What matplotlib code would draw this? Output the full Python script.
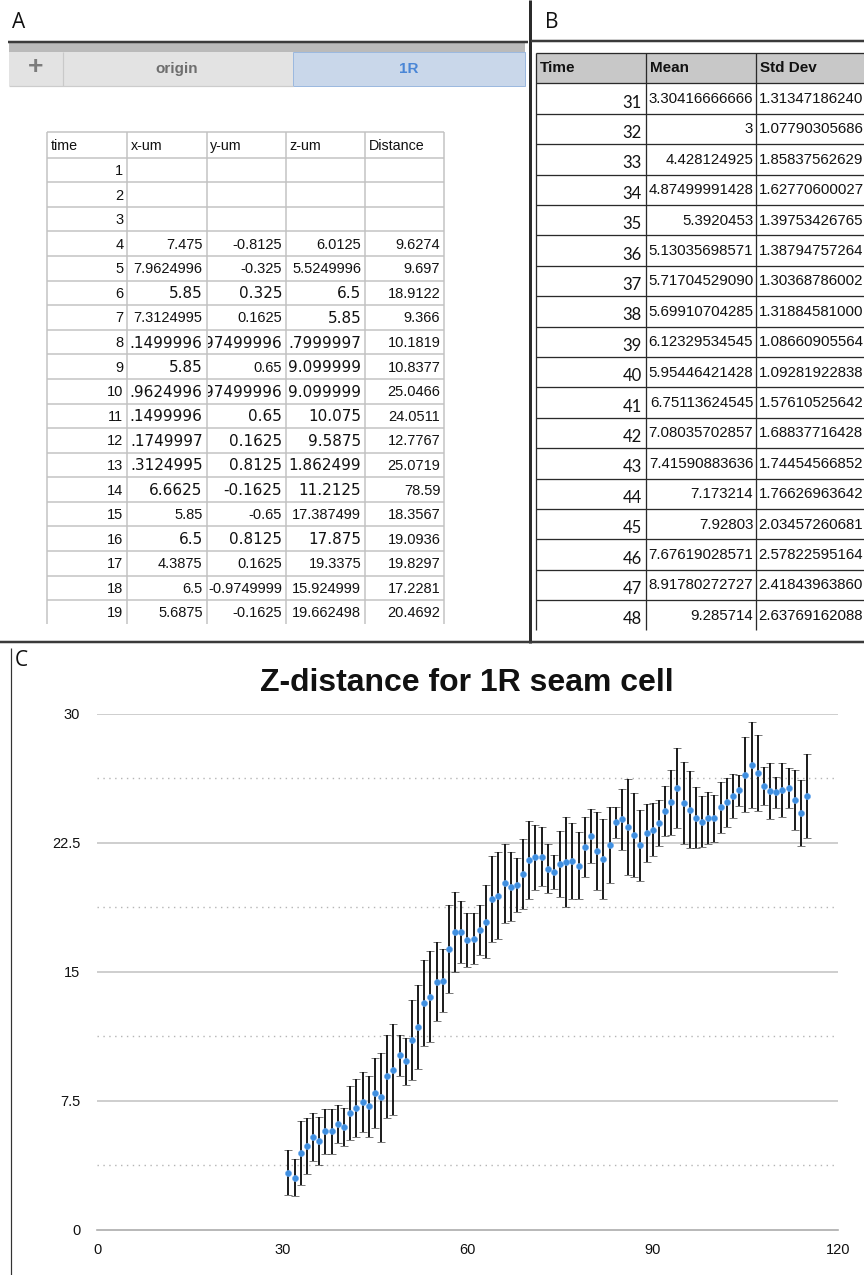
import matplotlib
matplotlib.use("Agg")
import matplotlib.pyplot as plt
from matplotlib.patches import Rectangle
from matplotlib.transforms import Bbox, TransformedBbox

# ---------------- data ----------------
# Panel A spreadsheet (sheet "1R"); over-long cells are shown as the sheet clips them
a_headers = ["time", "x-um", "y-um", "z-um", "Distance"]
a_time = [str(i) for i in range(1, 20)]
a_x = ["", "", "", "7.475", "7.9624996", "5.85", "7.3124995", ".1499996", "5.85",
       ".9624996", ".1499996", ".1749997", ".3124995", "6.6625", "5.85", "6.5",
       "4.3875", "6.5", "5.6875"]
a_y = ["", "", "", "-0.8125", "-0.325", "0.325", "0.1625", "97499996", "0.65",
       "97499996", "0.65", "0.1625", "0.8125", "-0.1625", "-0.65", "0.8125",
       "0.1625", "-0.9749999", "-0.1625"]
a_z = ["", "", "", "6.0125", "5.5249996", "6.5", "5.85", ".7999997", "9.099999",
       "9.099999", "10.075", "9.5875", "1.862499", "11.2125", "17.387499", "17.875",
       "19.3375", "15.924999", "19.662498"]
a_dist = ["", "", "", "9.6274", "9.697", "18.9122", "9.366", "10.1819", "10.8377",
          "25.0466", "24.0511", "12.7767", "25.0719", "78.59", "18.3567", "19.0936",
          "19.8297", "17.2281", "20.4692"]
sheet_tabs = ["origin", "1R"]

# Panel B summary table
b_headers = ["Time", "Mean", "Std Dev"]
b_time = [str(i) for i in range(31, 49)]
b_mean = ["3.30416666666", "3", "4.428124925", "4.87499991428", "5.3920453",
          "5.13035698571", "5.71704529090", "5.69910704285", "6.12329534545",
          "5.95446421428", "6.75113624545", "7.08035702857", "7.41590883636",
          "7.173214", "7.92803", "7.67619028571", "8.91780272727", "9.285714"]
b_std = ["1.31347186240", "1.07790305686", "1.85837562629", "1.62770600027",
         "1.39753426765", "1.38794757264", "1.30368786002", "1.31884581000",
         "1.08660905564", "1.09281922838", "1.57610525642", "1.68837716428",
         "1.74454566852", "1.76626963642", "2.03457260681", "2.57822595164",
         "2.41843963860", "2.63769162088"]

# Panel C chart
c_title = "Z-distance for 1R seam cell"
c_time = list(range(31, 116))
c_mean = [3.30416666666, 3.0, 4.428124925, 4.87499991428, 5.3920453, 5.13035698571,
          5.71704529090, 5.69910704285, 6.12329534545, 5.95446421428, 6.75113624545,
          7.08035702857, 7.41590883636, 7.173214, 7.92803, 7.67619028571,
          8.91780272727, 9.285714,
          10.13, 9.78, 11.04, 11.79, 13.19, 13.54, 14.41, 14.45, 16.31, 17.30,
          17.30, 16.83, 16.91, 17.41, 17.90, 19.22, 19.41, 20.13, 19.93, 20.03,
          20.67, 21.48, 21.64, 21.68, 20.98, 20.80, 21.25, 21.37, 21.44, 21.15,
          22.26, 22.88, 22.02, 21.54, 22.35, 23.67, 23.85, 23.40, 22.95, 22.34,
          23.05, 23.24, 23.62, 24.31, 24.84, 25.67, 24.80, 24.41, 23.94, 23.71,
          23.94, 23.91, 24.55, 24.84, 25.22, 25.53, 26.44, 27.01, 26.54, 25.78,
          25.49, 25.42, 25.55, 25.67, 24.99, 24.21, 25.20]
c_std = [1.31347186240, 1.07790305686, 1.85837562629, 1.62770600027, 1.39753426765,
         1.38794757264, 1.30368786002, 1.31884581000, 1.08660905564, 1.09281922838,
         1.57610525642, 1.68837716428, 1.74454566852, 1.76626963642, 2.03457260681,
         2.57822595164, 2.41843963860, 2.63769162088,
         1.20, 1.37, 2.33, 2.45, 2.50, 2.65, 2.30, 1.83, 2.57, 2.35,
         1.80, 1.55, 1.50, 1.43, 2.13, 2.50, 2.52, 2.30, 2.00, 1.56,
         2.05, 2.27, 1.90, 1.70, 1.42, 1.00, 1.92, 2.60, 2.20, 1.95,
         1.75, 1.55, 2.28, 2.35, 2.20, 0.92, 1.78, 2.80, 2.43, 2.07,
         1.70, 1.53, 1.35, 1.45, 1.90, 2.35, 2.40, 2.23, 1.76, 1.50,
         1.50, 1.38, 1.47, 1.42, 1.27, 0.90, 2.17, 2.48, 2.20, 1.10,
         1.65, 0.90, 1.56, 1.15, 1.75, 1.90, 2.45]
c_xticks = [0, 30, 60, 90, 120]
c_yticks = [0, 7.5, 15, 22.5, 30]
c_yticklabels = ["0", "7.5", "15", "22.5", "30"]
c_yminor = [3.75, 11.25, 18.75, 26.25]

# ---------------- styling helpers ----------------
W, H = 864, 1275
PX = 72.0 / 100.0  # points per pixel
fig = plt.figure(figsize=(W / 100, H / 100), dpi=100)
bg = fig.add_axes([0, 0, 1, 1])
bg.set_xlim(0, W)
bg.set_ylim(H, 0)
bg.axis("off")

ARIAL = ["Liberation Sans", "DejaVu Sans"]
WIDE = ["DejaVu Sans"]


def hline(y, x0, x1, color, lw):
    bg.plot([x0, x1], [y, y], color=color, lw=lw * PX, solid_capstyle="butt")


def vline(x, y0, y1, color, lw):
    bg.plot([x, x], [y0, y1], color=color, lw=lw * PX, solid_capstyle="butt")


def clipbox(x0, y0, x1, y1):
    return TransformedBbox(Bbox([[x0 / W, 1 - y1 / H], [x1 / W, 1 - y0 / H]]),
                           fig.transFigure)


def txt(x, y, s, ha="left", size=10.5, family=ARIAL, weight="normal",
        color="#111111", clip=None):
    t = bg.text(x, y, s, ha=ha, va="center", fontsize=size, family=family,
                fontweight=weight, color=color)
    if clip is not None:
        t.set_clip_on(True)
        t.set_clip_box(clipbox(*clip))
    return t


# ---------------- frame lines / labels ----------------
txt(12, 22, "A", size=15, family=["Open Sans", "DejaVu Sans"], color="#111111")
txt(545, 22, "B", size=15, family=["Open Sans", "DejaVu Sans"], color="#111111")
txt(15, 661, "C", size=15, family=["Open Sans", "DejaVu Sans"], color="#111111")

vline(529.5, 0, 643, "#2b2b2b", 3)
hline(42, 8, 528, "#3a3a3a", 2.5)
hline(41, 531, W, "#3a3a3a", 2.5)
hline(642, 0, W, "#3a3a3a", 2.5)
vline(10.5, 648, H, "#333333", 1.2)

# ---------------- panel A ----------------
bg.add_patch(Rectangle((9, 43.3), 516, 8.5, facecolor="#bababa", edgecolor="none"))
bg.add_patch(Rectangle((9, 51.8), 284, 34.2, facecolor="#e3e3e3", edgecolor="none"))
bg.add_patch(Rectangle((293, 51.8), 232, 34.2, facecolor="#c9d7ea",
                       edgecolor="#9cb9df", lw=1.0 * PX))
vline(62.5, 51.8, 86, "#c9c9c9", 1.2)
hline(86, 9, 293, "#cccccc", 1.2)
txt(35.5, 67, "+", ha="center", size=19, weight="bold", color="#7c7c7c")
txt(177, 69, sheet_tabs[0], ha="center", size=11, weight="bold", color="#6e6e6e")
txt(409, 69, sheet_tabs[1], ha="center", size=11, weight="bold", color="#4a86d6")

col_a = [47.3, 127.3, 206.7, 286.0, 365.3, 444.3]
top_a = 132.3
head_h = 25.4
row_h = 24.58
grid_a = "#c2c2c2"
n_rows = len(a_time)
bottom_a = top_a + head_h + (n_rows - 1) * row_h
for x in col_a:
    vline(x, top_a, bottom_a + 23.5, grid_a, 1.5)
hline(top_a, col_a[0], col_a[-1], grid_a, 1.5)
for k in range(n_rows):
    hline(top_a + head_h + k * row_h, col_a[0], col_a[-1], grid_a, 1.5)

for j, h in enumerate(a_headers):
    txt(col_a[j] + 3.5, top_a + head_h / 2 + 1, h, size=10.3)

# cells drawn in the wider (Verdana-like) font, per column x/y/z
wide_rows = {
    "x": {6, 8, 9, 10, 11, 12, 13, 14, 16},
    "y": {6, 8, 10, 11, 12, 13, 14, 16},
    "z": {6, 7, 8, 9, 10, 11, 12, 13, 14, 16},
}
cols_vals = [("t", a_time), ("x", a_x), ("y", a_y), ("z", a_z), ("d", a_dist)]
for i in range(n_rows):
    cy = top_a + head_h + (i + 0.5) * row_h + 1
    row_no = i + 1
    for j, (key, vals) in enumerate(cols_vals):
        s = vals[i]
        if not s:
            continue
        wide = key in wide_rows and row_no in wide_rows[key]
        fam = WIDE if wide else ARIAL
        size = 11.0 if wide else 10.5
        x0, x1 = col_a[j], col_a[j + 1]
        txt(x1 - 4.0, cy, s, ha="right", size=size, family=fam,
            clip=(x0 + 0.8, cy - 14, x1 - 0.8, cy + 14))

# ---------------- panel B ----------------
col_b = [536.0, 645.7, 755.7, W + 5]
top_b = 53.3
head_hb = 30.0
row_hb = 30.4
grid_b = "#2a2a2a"
nb = len(b_time)
bg.add_patch(Rectangle((col_b[0], top_b), W - col_b[0], head_hb,
                       facecolor="#c8c8c8", edgecolor="none"))
bottom_b = top_b + head_hb + nb * row_hb
for x in col_b[:3]:
    vline(x, top_b, bottom_b, grid_b, 1.3)
hline(top_b, col_b[0], W, grid_b, 1.3)
for k in range(nb):
    hline(top_b + head_hb + k * row_hb, col_b[0], W, grid_b, 1.3)
for j, h in enumerate(b_headers):
    txt(col_b[j] + 4, top_b + head_hb / 2, h, size=11, weight="bold")
for i in range(nb):
    cy = top_b + head_hb + (i + 0.5) * row_hb
    txt(col_b[1] - 4, cy + 4, b_time[i], ha="right", size=12,
        family=["Lato", "DejaVu Sans"])
    txt(col_b[2] - 2.5, cy + 0.5, b_mean[i], ha="right", size=10.8,
        clip=(col_b[1] + 1, cy - 15, col_b[2] - 0.5, cy + 15))
    txt(col_b[2] + 3, cy + 0.5, b_std[i], ha="left", size=10.8)

# ---------------- panel C ----------------
ax_l, ax_r, ax_t, ax_b = 97.0, 838.0, 713.5, 1229.5
ax = fig.add_axes([ax_l / W, 1 - ax_b / H, (ax_r - ax_l) / W, (ax_b - ax_t) / H])
ax.set_xlim(0, 120)
ax.set_ylim(0, 30)
for yv in c_yticks[1:]:
    ax.axhline(yv, color="#c4c4c4", lw=1.6 * PX, zorder=0)
for yv in c_yminor:
    ax.axhline(yv, color="#b5b5b5", lw=1.4 * PX, ls=(0, (1, 3.2)), zorder=0)
for side in ("top", "right", "left"):
    ax.spines[side].set_visible(False)
ax.spines["bottom"].set_color("#a8a8a8")
ax.spines["bottom"].set_linewidth(1.6 * PX)
ax.set_xticks(c_xticks)
ax.set_xticklabels([str(v) for v in c_xticks])
ax.set_yticks(c_yticks)
ax.set_yticklabels(c_yticklabels)
ax.tick_params(axis="both", length=0, labelsize=10.5, colors="#111111")
ax.tick_params(axis="y", pad=12)
ax.tick_params(axis="x", pad=10)
for lab in ax.get_xticklabels() + ax.get_yticklabels():
    lab.set_family(ARIAL)

ax.errorbar(c_time, c_mean, yerr=c_std, fmt="o", ms=4.4, mfc="#3f8fe0",
            mec="#6aaaf0", mew=0.4, ecolor="#151515", elinewidth=1.9 * PX,
            capsize=2.7, capthick=1.9 * PX, zorder=3)

fig.text(467 / W, 1 - 683 / H, c_title, ha="center", va="center", fontsize=23,
         fontweight="bold", family=ARIAL, color="#111111")

fig.savefig("out.png", dpi=100)
